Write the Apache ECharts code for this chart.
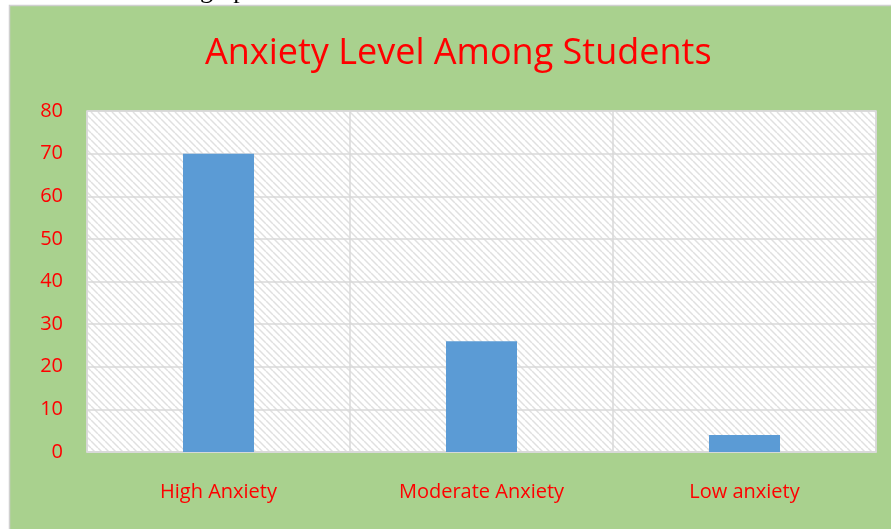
<!DOCTYPE html>
<html><head><meta charset="utf-8">
<script src="https://cdn.jsdelivr.net/npm/echarts@6/dist/echarts.min.js"></script>
<style>html,body{margin:0;padding:0;background:#fff}#c{width:891px;height:529px}</style>
</head><body><div id="c"></div>
<script>
const titleText = 'Anxiety Level Among Students';
const categories = ['High Anxiety', 'Moderate Anxiety', 'Low anxiety'];
const values = [70, 26, 4];
const yTicks = {min: 0, max: 80, interval: 10};

const pc = document.createElement('canvas');
pc.width = 7; pc.height = 7;
const ctx = pc.getContext('2d');
ctx.fillStyle = '#ffffff'; ctx.fillRect(0,0,7,7);
ctx.strokeStyle = '#e0e0e0'; ctx.lineWidth = 1.5;
ctx.beginPath();
for (let k = -7; k <= 14; k += 7) { ctx.moveTo(k, 0); ctx.lineTo(k + 7, 7); }
ctx.stroke();

const chart = echarts.init(document.getElementById('c'), null, {renderer: 'canvas'});
const red = '#ff0000';
const font = 'Open Sans';
chart.setOption({
  backgroundColor: '#ffffff',
  animation: false,
  graphic: [
    {type: 'text', left: 200, top: -22, z: -10, style: {text: 'grap', font: '26px "Liberation Serif"', fill: '#000'}},
    {type: 'rect', shape: {x: 9.5, y: 5.5, width: 900, height: 600}, z: -5,
     style: {fill: '#a9d18e', stroke: '#d0d0d0', lineWidth: 1.5}}
  ],
  title: {
    text: titleText, left: 200, top: 31,
    textStyle: {color: red, fontFamily: font, fontWeight: 'normal', fontSize: 36}
  },
  grid: {left: 87, top: 111, right: 15, bottom: 77, show: true,
    backgroundColor: {image: pc, repeat: 'repeat'}, borderColor: '#d9d9d9', borderWidth: 1.5},
  xAxis: {
    type: 'category', data: categories,
    axisLine: {lineStyle: {color: '#d9d9d9', width: 1.5}},
    axisTick: {show: false},
    axisLabel: {color: red, fontFamily: font, fontSize: 20, margin: 30},
    splitLine: {show: true, lineStyle: {color: '#d9d9d9', width: 1.5}}
  },
  yAxis: {
    type: 'value', min: yTicks.min, max: yTicks.max, interval: yTicks.interval,
    axisLine: {show: false}, axisTick: {show: false},
    axisLabel: {color: red, fontFamily: font, fontSize: 20, margin: 24},
    splitLine: {lineStyle: {color: '#d9d9d9', width: 1.5}}
  },
  series: [{
    type: 'bar', data: values, barWidth: '27%',
    itemStyle: {color: '#5b9bd5'}
  }]
});
</script></body></html>
